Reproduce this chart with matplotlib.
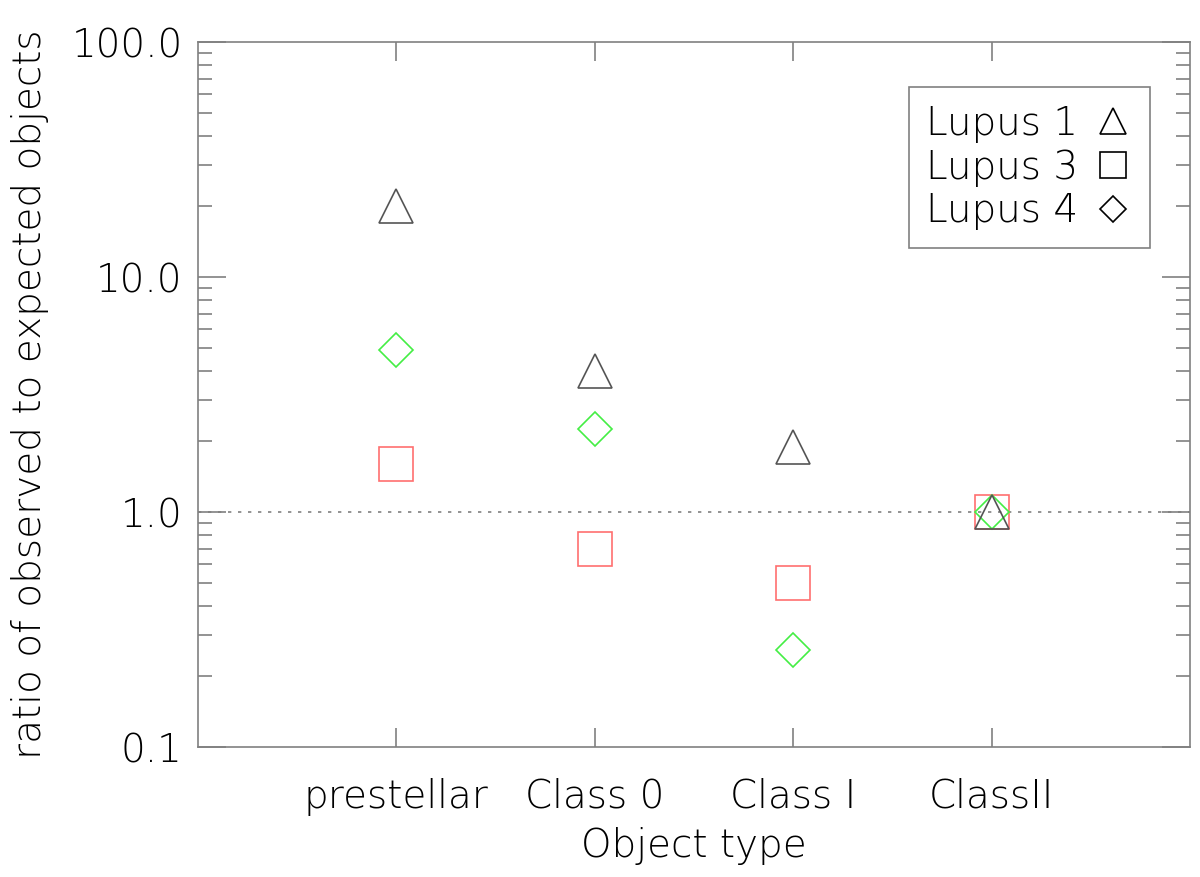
import matplotlib.pyplot as plt
import numpy as np
from matplotlib.lines import Line2D
from matplotlib.ticker import FixedLocator, LogLocator, NullFormatter

# Дані
categories = ['prestellar', 'Class 0', 'Class I', 'ClassII']
lupus1 = [20.0, 4.0, 1.9, 1.0]
lupus3 = [1.6, 0.7, 0.5, 1.0]
lupus4 = [4.9, 2.25, 0.26, 1.0]
ytick_vals = [0.1, 1.0, 10.0, 100.0]
ytick_labels = ['0.1', '1.0', '10.0', '100.0']

plt.rcParams['font.family'] = ['DejaVu Sans']
plt.rcParams['font.weight'] = 'light'

fig = plt.figure(figsize=(12, 8.77), dpi=100)
ax = fig.add_axes([0.165, 0.148, 0.8267, 0.804])

x = np.arange(1, len(categories) + 1)
gray = '#808080'
ms = 23.8
fs = 28

ax.axhline(1.0, color=gray, lw=1.2, ls=(0, (2, 4)), zorder=1)
ax.plot(x, lupus3, ls='none', marker='s', ms=ms, mfc='none', mec='#ff6f6f', mew=1.2, zorder=2)
ax.plot(x, lupus4, ls='none', marker='D', ms=ms / 1.414, mfc='none', mec='#44ee44', mew=1.2, zorder=3)
ax.plot(x, lupus1, ls='none', marker='^', ms=ms, mfc='none', mec='#555555', mew=1.2, zorder=4)

ax.set_yscale('log')
ax.set_ylim(0.1, 100)
ax.set_xlim(0, 5)

ax.yaxis.set_major_locator(FixedLocator(ytick_vals))
ax.set_yticklabels(ytick_labels)
ax.yaxis.set_minor_locator(LogLocator(base=10, subs=np.arange(2, 10)))
ax.yaxis.set_minor_formatter(NullFormatter())
ax.set_xticks(x)
ax.set_xticklabels(categories)

for s in ax.spines.values():
    s.set_color(gray)
    s.set_linewidth(1.2)

ax.tick_params(axis='both', which='both', direction='in', color=gray, width=1.2,
               top=True, right=True, labelsize=fs, labelcolor='black')
ax.tick_params(axis='y', which='major', length=20, pad=11)
ax.tick_params(axis='y', which='minor', length=10)
ax.tick_params(axis='x', which='major', length=14, pad=22)

ax.set_xlabel('Object type', fontsize=fs, fontweight='light', labelpad=8)
ax.set_ylabel('ratio of observed to expected objects', fontsize=fs,
              fontweight='light', labelpad=16)

handles = [
    Line2D([], [], ls='none', marker='^', ms=19, mfc='none', mec='black', mew=1.2),
    Line2D([], [], ls='none', marker='s', ms=19, mfc='none', mec='black', mew=1.2),
    Line2D([], [], ls='none', marker='D', ms=13.5, mfc='none', mec='black', mew=1.2),
]
leg = ax.legend(handles, ['Lupus 1', 'Lupus 3', 'Lupus 4'], loc='upper right',
                bbox_to_anchor=(0.96, 0.936), markerfirst=False, fancybox=False,
                fontsize=fs, handlelength=1.0, handletextpad=0.4, labelspacing=0.15,
                borderpad=0.45, borderaxespad=0, framealpha=1)
leg.get_frame().set_edgecolor(gray)
leg.get_frame().set_linewidth(1.2)

fig.savefig('out.png', dpi=100)
